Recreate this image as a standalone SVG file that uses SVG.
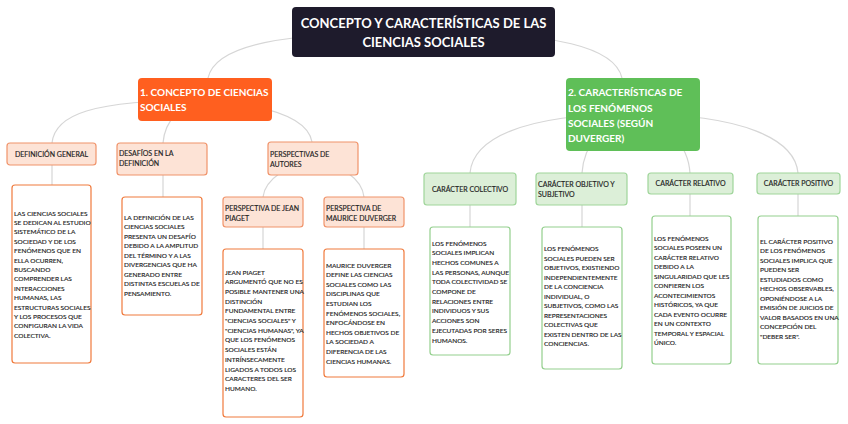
<svg xmlns="http://www.w3.org/2000/svg" width="848" height="424" viewBox="0 0 848 424">
<style>
.bg{fill:#ffffff}
.con{fill:none;stroke:#d6d6d6;stroke-width:1.2}
.title{fill:#1e1b2c}
.main-o{fill:#ff5f1f}
.main-g{fill:#5fbf58}
.h-o{fill:#fde3d6;stroke:#f0936a;stroke-width:1.2}
.b-o{fill:#ffffff;stroke:#f07a3c;stroke-width:1.2}
.h-g{fill:#dcefd8;stroke:#9fd59a;stroke-width:1.2}
.b-g{fill:#ffffff;stroke:#93cf8d;stroke-width:1.2}
.tt{font-family:Lato,"Liberation Sans",sans-serif;font-weight:bold;font-size:13px;fill:#ffffff}
.tm{font-family:Lato,"Liberation Sans",sans-serif;font-weight:bold;font-size:10px;fill:#ffffff}
.th{font-family:Lato,"Liberation Sans",sans-serif;font-size:7px;fill:#1e1e1e;stroke:#1e1e1e;stroke-width:0.15}
.tb{font-family:Lato,"Liberation Sans",sans-serif;font-size:6.5px;fill:#1e1e1e;stroke:#1e1e1e;stroke-width:0.15}
</style>
<rect class="bg" width="848" height="424"/>
<g id="connectors">
<path class="con" d="M423,32 C280,32 215,45 208,78"/>
<path class="con" d="M423,32 C560,32 615,48 622,78"/>
<path class="con" d="M205,100 C90,100 55,115 52,143"/>
<path class="con" d="M205,100 C180,105 165,120 163,143"/>
<path class="con" d="M205,100 C270,105 308,118 312,142"/>
<path class="con" d="M52,165 L52,185"/>
<path class="con" d="M163,175 L163,197"/>
<path class="con" d="M313,158 C290,165 265,178 263,197"/>
<path class="con" d="M313,158 C340,165 362,178 364,197"/>
<path class="con" d="M263,227 L263,249"/>
<path class="con" d="M364,227 L364,249"/>
<path class="con" d="M633,114 C520,114 473,140 470,173"/>
<path class="con" d="M633,114 C600,125 584,145 582,173"/>
<path class="con" d="M633,114 C670,125 688,145 690,173"/>
<path class="con" d="M633,114 C745,114 795,140 798,173"/>
<path class="con" d="M470,205 L470,227"/>
<path class="con" d="M582,205 L582,227"/>
<path class="con" d="M690,194 L690,216"/>
<path class="con" d="M798,194 L798,216"/>
</g>
<g id="title">
<rect class="title" x="292" y="7" width="263" height="50" rx="4"/>
<text class="tt" text-anchor="middle"><tspan x="423.5" y="28">CONCEPTO Y CARACTERÍSTICAS DE LAS</tspan><tspan x="423.5" y="47">CIENCIAS SOCIALES</tspan></text>
</g>
<g id="concepto">
<rect class="main-o" x="138" y="78" width="134" height="43" rx="4"/>
<text class="tm"><tspan x="140" y="96">1. CONCEPTO DE CIENCIAS</tspan><tspan x="140" y="111">SOCIALES</tspan></text>
</g>
<g id="caracteristicas">
<rect class="main-g" x="566" y="78" width="134" height="73" rx="4"/>
<text class="tm"><tspan x="568" y="96">2. CARACTERÍSTICAS DE</tspan><tspan x="568" y="112">LOS FENÓMENOS</tspan><tspan x="568" y="127">SOCIALES (SEGÚN</tspan><tspan x="568" y="142">DUVERGER)</tspan></text>
</g>
<g id="def-general">
<rect class="h-o" x="7" y="143" width="89" height="22" rx="3"/>
<text class="th" text-anchor="middle" x="51.5" y="156.5">DEFINICIÓN GENERAL</text>
</g>
<g id="def-general-text">
<rect class="b-o" x="12" y="185" width="79" height="178" rx="3"/>
<text class="tb"><tspan x="14" y="215.5">LAS CIENCIAS SOCIALES</tspan><tspan x="14" dy="9.4">SE DEDICAN AL ESTUDIO</tspan><tspan x="14" dy="9.4">SISTEMÁTICO DE LA</tspan><tspan x="14" dy="9.4">SOCIEDAD Y DE LOS</tspan><tspan x="14" dy="9.4">FENÓMENOS QUE EN</tspan><tspan x="14" dy="9.4">ELLA OCURREN,</tspan><tspan x="14" dy="9.4">BUSCANDO</tspan><tspan x="14" dy="9.4">COMPRENDER LAS</tspan><tspan x="14" dy="9.4">INTERACCIONES</tspan><tspan x="14" dy="9.4">HUMANAS, LAS</tspan><tspan x="14" dy="9.4">ESTRUCTURAS SOCIALES</tspan><tspan x="14" dy="9.4">Y LOS PROCESOS QUE</tspan><tspan x="14" dy="9.4">CONFIGURAN LA VIDA</tspan><tspan x="14" dy="9.4">COLECTIVA.</tspan></text>
</g>
<g id="desafios">
<rect class="h-o" x="117" y="143" width="90" height="32" rx="3"/>
<text class="th"><tspan x="119" y="156">DESAFÍOS EN LA</tspan><tspan x="119" y="166">DEFINICIÓN</tspan></text>
</g>
<g id="desafios-text">
<rect class="b-o" x="122" y="197" width="80" height="118" rx="3"/>
<text class="tb"><tspan x="124" y="219.5">LA DEFINICIÓN DE LAS</tspan><tspan x="124" dy="9.5">CIENCIAS SOCIALES</tspan><tspan x="124" dy="9.5">PRESENTA UN DESAFÍO</tspan><tspan x="124" dy="9.5">DEBIDO A LA AMPLITUD</tspan><tspan x="124" dy="9.5">DEL TÉRMINO Y A LAS</tspan><tspan x="124" dy="9.5">DIVERGENCIAS QUE HA</tspan><tspan x="124" dy="9.5">GENERADO ENTRE</tspan><tspan x="124" dy="9.5">DISTINTAS ESCUELAS DE</tspan><tspan x="124" dy="9.5">PENSAMIENTO.</tspan></text>
</g>
<g id="perspectivas">
<rect class="h-o" x="268" y="142" width="90" height="33" rx="3"/>
<text class="th"><tspan x="270" y="157">PERSPECTIVAS DE</tspan><tspan x="270" y="167">AUTORES</tspan></text>
</g>
<g id="piaget">
<rect class="h-o" x="223" y="197" width="80" height="30" rx="3"/>
<text class="th"><tspan x="225" y="211">PERSPECTIVA DE JEAN</tspan><tspan x="225" y="220.5">PIAGET</tspan></text>
</g>
<g id="piaget-text">
<rect class="b-o" x="223" y="249" width="80" height="168" rx="3"/>
<text class="tb"><tspan x="225" y="274.5">JEAN PIAGET</tspan><tspan x="225" dy="9.7">ARGUMENTÓ QUE NO ES</tspan><tspan x="225" dy="9.7">POSIBLE MANTENER UNA</tspan><tspan x="225" dy="9.7">DISTINCIÓN</tspan><tspan x="225" dy="9.7">FUNDAMENTAL ENTRE</tspan><tspan x="225" dy="9.7">"CIENCIAS SOCIALES" Y</tspan><tspan x="225" dy="9.7">"CIENCIAS HUMANAS", YA</tspan><tspan x="225" dy="9.7">QUE LOS FENÓMENOS</tspan><tspan x="225" dy="9.7">SOCIALES ESTÁN</tspan><tspan x="225" dy="9.7">INTRÍNSECAMENTE</tspan><tspan x="225" dy="9.7">LIGADOS A TODOS LOS</tspan><tspan x="225" dy="9.7">CARACTERES DEL SER</tspan><tspan x="225" dy="9.7">HUMANO.</tspan></text>
</g>
<g id="duverger">
<rect class="h-o" x="324" y="197" width="80" height="30" rx="3"/>
<text class="th"><tspan x="326" y="211">PERSPECTIVA DE</tspan><tspan x="326" y="220.5">MAURICE DUVERGER</tspan></text>
</g>
<g id="duverger-text">
<rect class="b-o" x="324" y="249" width="80" height="128" rx="3"/>
<text class="tb"><tspan x="326" y="267.5">MAURICE DUVERGER</tspan><tspan x="326" dy="9.6">DEFINE LAS CIENCIAS</tspan><tspan x="326" dy="9.6">SOCIALES COMO LAS</tspan><tspan x="326" dy="9.6">DISCIPLINAS QUE</tspan><tspan x="326" dy="9.6">ESTUDIAN LOS</tspan><tspan x="326" dy="9.6">FENÓMENOS SOCIALES,</tspan><tspan x="326" dy="9.6">ENFOCÁNDOSE EN</tspan><tspan x="326" dy="9.6">HECHOS OBJETIVOS DE</tspan><tspan x="326" dy="9.6">LA SOCIEDAD A</tspan><tspan x="326" dy="9.6">DIFERENCIA DE LAS</tspan><tspan x="326" dy="9.6">CIENCIAS HUMANAS.</tspan></text>
</g>
<g id="colectivo">
<rect class="h-g" x="424" y="173" width="92" height="32" rx="3"/>
<text class="th" text-anchor="middle" x="470" y="191.5">CARÁCTER COLECTIVO</text>
</g>
<g id="colectivo-text">
<rect class="b-g" x="430" y="227" width="80" height="128" rx="3"/>
<text class="tb"><tspan x="432" y="245.5">LOS FENÓMENOS</tspan><tspan x="432" dy="9.7">SOCIALES IMPLICAN</tspan><tspan x="432" dy="9.7">HECHOS COMUNES A</tspan><tspan x="432" dy="9.7">LAS PERSONAS, AUNQUE</tspan><tspan x="432" dy="9.7">TODA COLECTIVIDAD SE</tspan><tspan x="432" dy="9.7">COMPONE DE</tspan><tspan x="432" dy="9.7">RELACIONES ENTRE</tspan><tspan x="432" dy="9.7">INDIVIDUOS Y SUS</tspan><tspan x="432" dy="9.7">ACCIONES SON</tspan><tspan x="432" dy="9.7">EJECUTADAS POR SERES</tspan><tspan x="432" dy="9.7">HUMANOS.</tspan></text>
</g>
<g id="objetivo">
<rect class="h-g" x="536" y="173" width="91" height="32" rx="3"/>
<text class="th"><tspan x="538" y="187">CARÁCTER OBJETIVO Y</tspan><tspan x="538" y="197">SUBJETIVO</tspan></text>
</g>
<g id="objetivo-text">
<rect class="b-g" x="542" y="227" width="80" height="142" rx="3"/>
<text class="tb"><tspan x="544" y="251">LOS FENÓMENOS</tspan><tspan x="544" dy="9.5">SOCIALES PUEDEN SER</tspan><tspan x="544" dy="9.5">OBJETIVOS, EXISTIENDO</tspan><tspan x="544" dy="9.5">INDEPENDIENTEMENTE</tspan><tspan x="544" dy="9.5">DE LA CONCIENCIA</tspan><tspan x="544" dy="9.5">INDIVIDUAL, O</tspan><tspan x="544" dy="9.5">SUBJETIVOS, COMO LAS</tspan><tspan x="544" dy="9.5">REPRESENTACIONES</tspan><tspan x="544" dy="9.5">COLECTIVAS QUE</tspan><tspan x="544" dy="9.5">EXISTEN DENTRO DE LAS</tspan><tspan x="544" dy="9.5">CONCIENCIAS.</tspan></text>
</g>
<g id="relativo">
<rect class="h-g" x="648" y="173" width="85" height="21" rx="3"/>
<text class="th" text-anchor="middle" x="690.5" y="186.3">CARÁCTER RELATIVO</text>
</g>
<g id="relativo-text">
<rect class="b-g" x="652" y="216" width="79" height="148" rx="3"/>
<text class="tb"><tspan x="654" y="240.5">LOS FENÓMENOS</tspan><tspan x="654" dy="9.5">SOCIALES POSEEN UN</tspan><tspan x="654" dy="9.5">CARÁCTER RELATIVO</tspan><tspan x="654" dy="9.5">DEBIDO A LA</tspan><tspan x="654" dy="9.5">SINGULARIDAD QUE LES</tspan><tspan x="654" dy="9.5">CONFIEREN LOS</tspan><tspan x="654" dy="9.5">ACONTECIMIENTOS</tspan><tspan x="654" dy="9.5">HISTÓRICOS, YA QUE</tspan><tspan x="654" dy="9.5">CADA EVENTO OCURRE</tspan><tspan x="654" dy="9.5">EN UN CONTEXTO</tspan><tspan x="654" dy="9.5">TEMPORAL Y ESPACIAL</tspan><tspan x="654" dy="9.5">ÚNICO.</tspan></text>
</g>
<g id="positivo">
<rect class="h-g" x="757" y="173" width="83" height="21" rx="3"/>
<text class="th" text-anchor="middle" x="798.5" y="186.3">CARÁCTER POSITIVO</text>
</g>
<g id="positivo-text">
<rect class="b-g" x="758" y="216" width="80" height="148" rx="3"/>
<text class="tb"><tspan x="760" y="243.5">EL CARÁCTER POSITIVO</tspan><tspan x="760" dy="9.5">DE LOS FENÓMENOS</tspan><tspan x="760" dy="9.5">SOCIALES IMPLICA QUE</tspan><tspan x="760" dy="9.5">PUEDEN SER</tspan><tspan x="760" dy="9.5">ESTUDIADOS COMO</tspan><tspan x="760" dy="9.5">HECHOS OBSERVABLES,</tspan><tspan x="760" dy="9.5">OPONIÉNDOSE A LA</tspan><tspan x="760" dy="9.5">EMISIÓN DE JUICIOS DE</tspan><tspan x="760" dy="9.5">VALOR BASADOS EN UNA</tspan><tspan x="760" dy="9.5">CONCEPCIÓN DEL</tspan><tspan x="760" dy="9.5">"DEBER SER".</tspan></text>
</g>
</svg>
